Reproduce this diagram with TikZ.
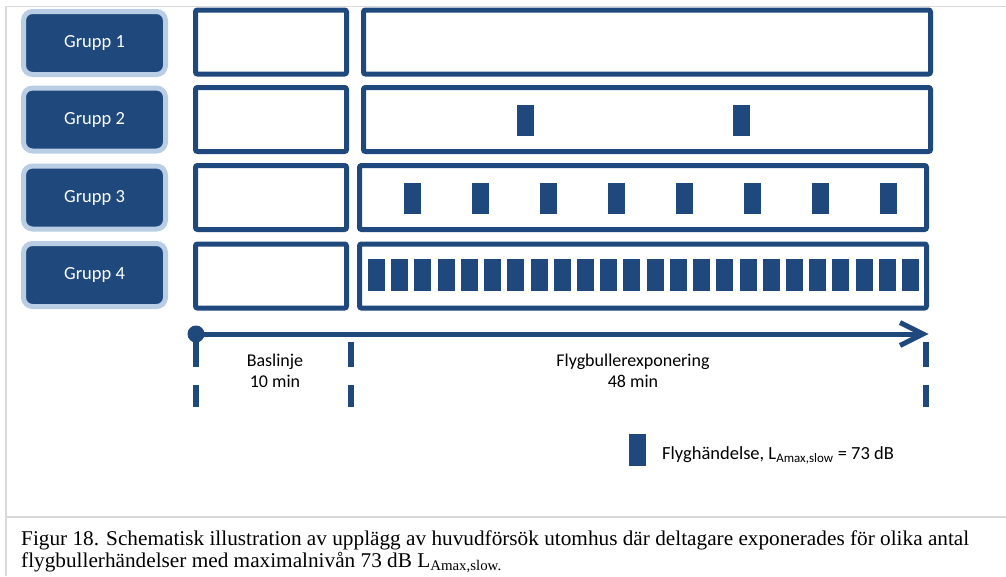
\documentclass[tikz,border=0pt]{standalone}
\usepackage{fontspec}
\setmainfont{Carlito}
\newfontfamily\capfont{Liberation Serif}
\usepackage{graphicx}
\usetikzlibrary{calc}
\definecolor{dblue}{RGB}{31,73,125}
\definecolor{lblue}{RGB}{185,205,229}
\definecolor{framegray}{RGB}{217,217,217}
\tikzset{
  grp/.style={rounded corners=9pt, fill=dblue, draw=lblue, line width=5pt,
    minimum width=142pt, minimum height=63pt, inner sep=0pt, text=white,
    font=\fontsize{18.5}{21}\selectfont},
  tbox/.style={draw=dblue, line width=5pt, rounded corners=2pt,
    minimum height=64pt, inner sep=0pt},
  ev/.style={fill=dblue, minimum width=17pt, minimum height=31pt, inner sep=0pt},
  lbl/.style={font=\fontsize{18}{22}\selectfont, inner sep=0pt, anchor=base},
  tick/.style={draw=dblue, line width=6pt},
  axis/.style={draw=dblue, line width=5pt},
  frameline/.style={draw=framegray, line width=1.5pt}
}
\begin{document}
\begin{tikzpicture}[x=1pt,y=-1pt]
\useasboundingbox (0,0) rectangle (1006,576);
% frame
\draw[frameline] (1006,6.5) -- (6,6.5) -- (6,576);
\draw[frameline] (6,517) -- (1006,517);

% group labels
\node[grp] (g1) at (94.5,43) {Grupp 1};
\node[grp] (g2) at (94.5,119.5) {Grupp 2};
\node[grp] (g3) at (94.5,197.5) {Grupp 3};
\node[grp] (g4) at (94.5,275) {Grupp 4};

% baseline boxes
\node[tbox, minimum width=151pt] (b1) at (271,42) {};
\node[tbox, minimum width=151pt] (b2) at (271,119.5) {};
\node[tbox, minimum width=151pt] (b3) at (271,197.5) {};
\node[tbox, minimum width=151pt] (b4) at (271,276) {};

% exposure boxes
\node[tbox, minimum width=567pt] (m1) at (647,42) {};
\node[tbox, minimum width=567pt] (m2) at (647,119.5) {};
\node[tbox, minimum width=567pt] (m3) at (643,197.5) {};
\node[tbox, minimum width=567pt] (m4) at (643,276) {};

% events group 2
\node[ev] (e2a) at (525.5,120.5) {};
\node[ev] (e2b) at (741.5,120.5) {};
% events group 3
\foreach \i in {0,...,7} {
  \node[ev] (e3-\i) at ({412.5+68*\i},198.5) {};
}
% events group 4
\foreach \i in {0,...,23} {
  \node[ev, minimum height=32pt] (e4-\i) at ({376.5+23.22*\i},275) {};
}

% time axis
\node[circle, fill=dblue, minimum size=17pt, inner sep=0pt] (dot) at (196,334) {};
\coordinate (tip) at (923,334);
\draw[axis] (dot.center) -- (tip);
\draw[axis, line join=miter] ($(tip)+(-23,-11.5)$) -- (tip) -- ($(tip)+(-23,11.5)$);

% ticks
\coordinate (t0a) at (196,367); \coordinate (t0b) at (196,385); \coordinate (t0c) at (196,407);
\draw[tick] (dot.center) -- (t0a);
\draw[tick] (t0b) -- (t0c);
\coordinate (t1a) at (351,342); \coordinate (t1b) at (351,367);
\coordinate (t1c) at (351,385); \coordinate (t1d) at (351,407);
\draw[tick] (t1a) -- (t1b);
\draw[tick] (t1c) -- (t1d);
\coordinate (t2a) at (926,342); \coordinate (t2b) at (926,367);
\coordinate (t2c) at (926,385); \coordinate (t2d) at (926,407);
\draw[tick] (t2a) -- (t2b);
\draw[tick] (t2c) -- (t2d);

% labels
\node[lbl] (bl1) at (275,366) {Baslinje};
\node[lbl] (bl2) at (275,387.5) {10 min};
\node[lbl] (fl1) at (633,366) {Flygbullerexponering};
\node[lbl] (fl2) at (633,387.5) {48 min};

% legend
\node[ev, minimum height=32pt] (lgm) at (637.5,450) {};
\node[font=\fontsize{18.5}{22}\selectfont, inner sep=0pt, anchor=base west] (lgt) at (662,459)
  {Flyghändelse, L\textsubscript{Amax,slow} = 73 dB};

% caption
\node[inner sep=0pt, anchor=base west] (cap) at (21,545)
  {\resizebox{948pt}{\height}{\capfont\fontsize{21}{22}\selectfont
   \begin{tabular}[t]{@{}l@{}}
   Figur 18. Schematisk illustration av upplägg av huvudförsök utomhus där deltagare exponerades för olika antal\\
   flygbullerhändelser med maximalnivån 73 dB L\textsubscript{Amax,slow.}
   \end{tabular}}};
\end{tikzpicture}
\end{document}
